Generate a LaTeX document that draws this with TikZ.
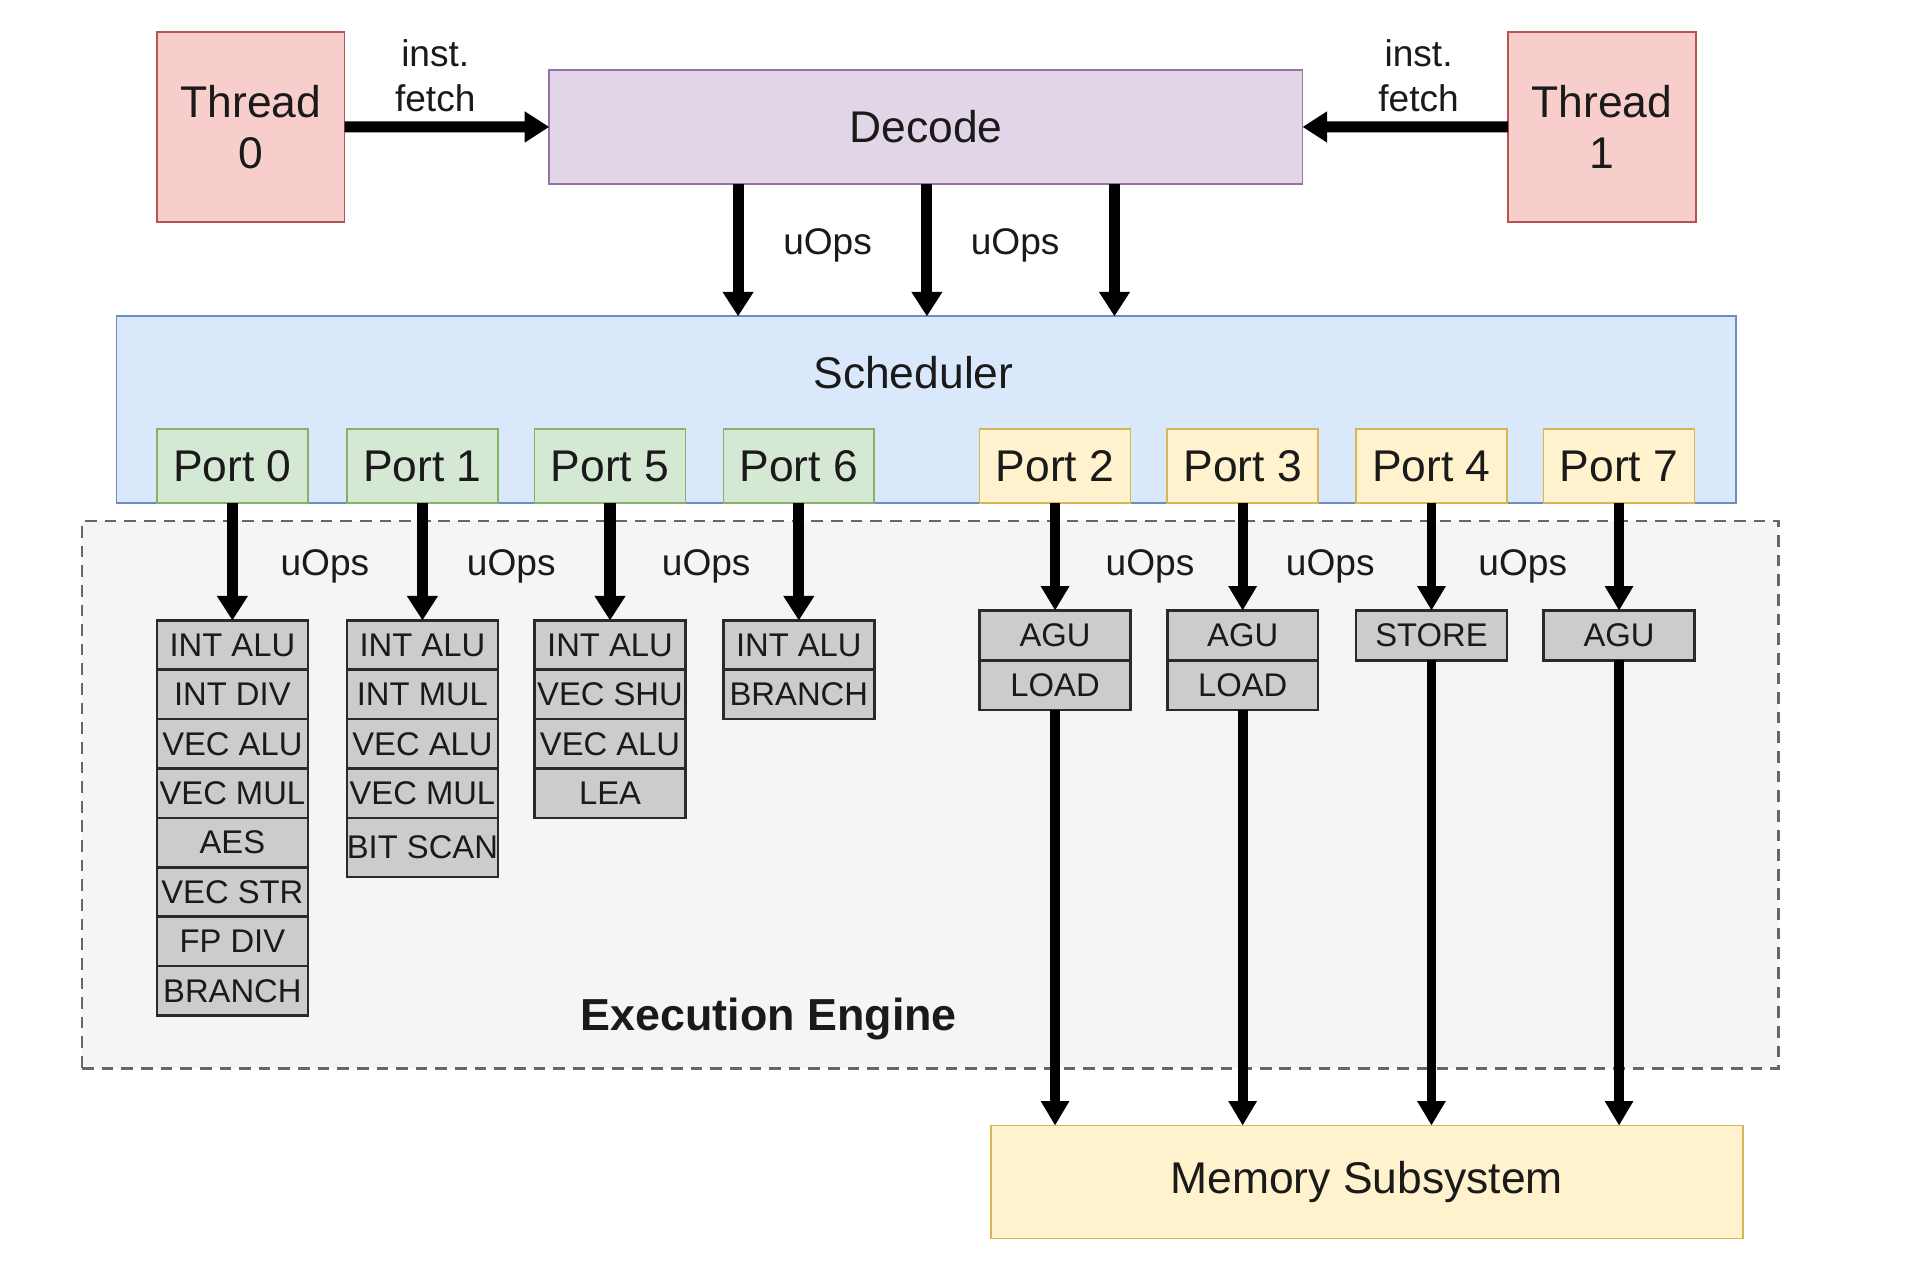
\documentclass[tikz,border=0pt]{standalone}
\usepackage{fontspec}
\setmainfont{Liberation Sans}
\usetikzlibrary{arrows.meta}
\definecolor{thrF}{HTML}{F8CECC}\definecolor{thrD}{HTML}{B85450}
\definecolor{decF}{HTML}{E1D5E7}\definecolor{decD}{HTML}{9673A6}
\definecolor{schF}{HTML}{DAE8FC}\definecolor{schD}{HTML}{6C8EBF}
\definecolor{grnF}{HTML}{D5E8D4}\definecolor{grnD}{HTML}{82B366}
\definecolor{ylwF}{HTML}{FFF2CC}\definecolor{ylwD}{HTML}{D6B656}
\definecolor{exeF}{HTML}{F5F5F5}\definecolor{exeD}{HTML}{666666}
\definecolor{untF}{HTML}{CCCCCC}\definecolor{untD}{HTML}{2A2A2A}
\definecolor{txt}{HTML}{1A1A1A}
\tikzset{
  base/.style={rectangle, inner sep=0pt, outer sep=0pt, line width=0.4pt, text=txt},
  big/.style={font=\fontsize{10.3}{11.7}\selectfont},
  thr/.style={base, big, fill=thrF, draw=thrD, minimum width=1.53cm, minimum height=1.55cm, align=center, anchor=north west},
  dec/.style={base, big, fill=decF, draw=decD, anchor=north west},
  sch/.style={base, fill=schF, draw=schD, anchor=north west},
  gport/.style={base, big, fill=grnF, draw=grnD, minimum width=1.23cm, minimum height=0.6cm, anchor=north west},
  yport/.style={base, big, fill=ylwF, draw=ylwD, minimum width=1.23cm, minimum height=0.6cm, anchor=north west},
  mem/.style={base, big, fill=ylwF, draw=ylwD, anchor=north west},
  exe/.style={base, fill=exeF, draw=exeD, line width=0.6pt, dash pattern=on 0.095cm off 0.065cm, anchor=north west},
  unit/.style={base, fill=untF, draw=untD, line width=0.6pt, minimum width=1.23cm, minimum height=0.4025cm, font=\fontsize{7.6}{8}\selectfont},
  runit/.style={unit, minimum height=0.405cm},
  lbl/.style={inner sep=0pt, text=txt, font=\fontsize{8.6}{10.5}\selectfont, align=center},
  arr/.style={line width=0.09cm, -{Triangle[length=0.2cm, width=0.24cm]}},
  arrs/.style={line width=0.08cm, -{Triangle[length=0.2cm, width=0.22cm]}},
}
\begin{document}
\begin{tikzpicture}[x=0.01cm, y=-0.01cm]
\useasboundingbox[fill=white] (0,0) rectangle (1566,1044);

% execution engine background
\node[exe, minimum width=13.83cm, minimum height=4.46cm] (exe) at (67,425) {};
\node[inner sep=0pt, text=txt, font=\bfseries\fontsize{10.4}{12}\selectfont] (exelbl) at (627,831) {Execution Engine};

% threads and decode
\node[thr] (t0) at (128,26) {Thread\\0};
\node[thr] (t1) at (1230,26) {Thread\\1};
\node[dec, minimum width=6.14cm, minimum height=0.93cm] (dec) at (448,57) {Decode};

\draw[arr] (t0.east) -- (dec.west);
\draw[arr] (t1.west) -- (dec.east);
\node[lbl] (f0) at (355,62) {inst.\\fetch};
\node[lbl] (f1) at (1157,62) {inst.\\fetch};

% scheduler
\node[sch, minimum width=13.2cm, minimum height=1.52cm] (sch) at (95,258) {};
\node[inner sep=0pt, text=txt, big] (schlbl) at (745,304) {Scheduler};

\coordinate (cx1) at (602,0);
\coordinate (cx2) at (756,0);
\coordinate (cx3) at (909,0);
\draw[arr] (dec.south -| cx1) -- (sch.north -| cx1);
\draw[arr] (dec.south -| cx2) -- (sch.north -| cx2);
\draw[arr] (dec.south -| cx3) -- (sch.north -| cx3);
\node[lbl] (u1) at (675,200) {uOps};
\node[lbl] (u2) at (828,200) {uOps};

% ports
\node[gport] (p0) at (128,350) {Port 0};
\node[gport] (p1) at (283,350) {Port 1};
\node[gport] (p5) at (436,350) {Port 5};
\node[gport] (p6) at (590,350) {Port 6};
\node[yport] (p2) at (799,350) {Port 2};
\node[yport] (p3) at (952,350) {Port 3};
\node[yport] (p4) at (1106,350) {Port 4};
\node[yport] (p7) at (1259,350) {Port 7};

% port 0 units
\node[unit, anchor=north west] (p0a) at (128,506) {INT ALU};
\node[unit, anchor=north] (p0b) at (p0a.south) {INT DIV};
\node[unit, anchor=north] (p0c) at (p0b.south) {VEC ALU};
\node[unit, anchor=north] (p0d) at (p0c.south) {VEC MUL};
\node[unit, anchor=north] (p0e) at (p0d.south) {AES};
\node[unit, anchor=north] (p0f) at (p0e.south) {VEC STR};
\node[unit, anchor=north] (p0g) at (p0f.south) {FP DIV};
\node[unit, anchor=north] (p0h) at (p0g.south) {BRANCH};
% port 1 units
\node[unit, anchor=north west] (p1a) at (283,506) {INT ALU};
\node[unit, anchor=north] (p1b) at (p1a.south) {INT MUL};
\node[unit, anchor=north] (p1c) at (p1b.south) {VEC ALU};
\node[unit, anchor=north] (p1d) at (p1c.south) {VEC MUL};
\node[unit, anchor=north, minimum height=0.48cm] (p1e) at (p1d.south) {BIT SCAN};
% port 5 units
\node[unit, anchor=north west] (p5a) at (436,506) {INT ALU};
\node[unit, anchor=north] (p5b) at (p5a.south) {VEC SHU};
\node[unit, anchor=north] (p5c) at (p5b.south) {VEC ALU};
\node[unit, anchor=north] (p5d) at (p5c.south) {LEA};
% port 6 units
\node[unit, anchor=north west] (p6a) at (590,506) {INT ALU};
\node[unit, anchor=north] (p6b) at (p6a.south) {BRANCH};
% memory ports units
\node[runit, anchor=north west] (p2a) at (799,498) {AGU};
\node[runit, anchor=north] (p2b) at (p2a.south) {LOAD};
\node[runit, anchor=north west] (p3a) at (952,498) {AGU};
\node[runit, anchor=north] (p3b) at (p3a.south) {LOAD};
\node[runit, anchor=north west] (p4a) at (1106,498) {STORE};
\node[runit, anchor=north west] (p7a) at (1259,498) {AGU};

% port -> unit arrows
\draw[arr] (p0.south) -- (p0a.north);
\draw[arr] (p1.south) -- (p1a.north);
\draw[arr] (p5.south) -- (p5a.north);
\draw[arr] (p6.south) -- (p6a.north);
\draw[arrs] (p2.south) -- (p2a.north);
\draw[arrs] (p3.south) -- (p3a.north);
\draw[arrs] (p4.south) -- (p4a.north);
\draw[arrs] (p7.south) -- (p7a.north);
\node[lbl] (u3) at (265,462) {uOps};
\node[lbl] (u4) at (417,462) {uOps};
\node[lbl] (u5) at (576,462) {uOps};
\node[lbl] (u6) at (938,462) {uOps};
\node[lbl] (u7) at (1085,462) {uOps};
\node[lbl] (u8) at (1242,462) {uOps};

% memory subsystem
\node[mem, minimum width=6.13cm, minimum height=0.92cm] (mem) at (808,918) {Memory Subsystem};
\draw[arrs] (p2b.south) -- (mem.north -| p2b.south);
\draw[arrs] (p3b.south) -- (mem.north -| p3b.south);
\draw[arrs] (p4a.south) -- (mem.north -| p4a.south);
\draw[arrs] (p7a.south) -- (mem.north -| p7a.south);
\end{tikzpicture}
\end{document}
